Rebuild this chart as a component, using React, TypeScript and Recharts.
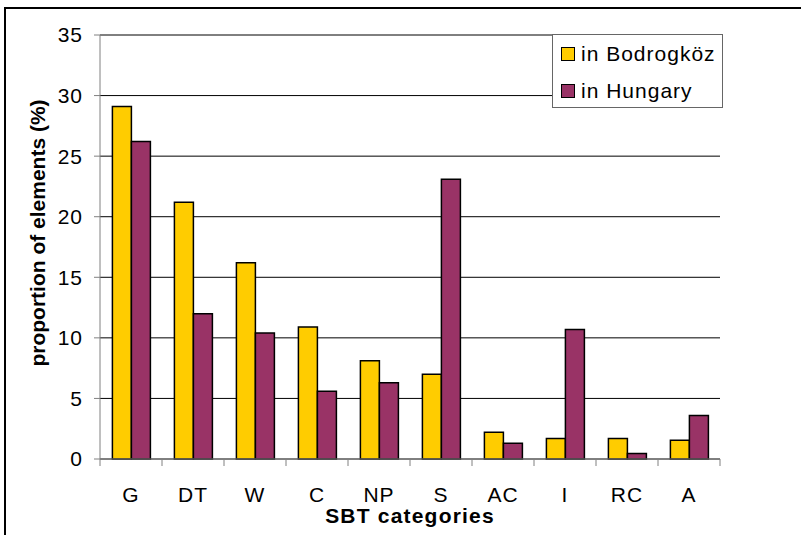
import { BarChart, Bar, XAxis, YAxis, CartesianGrid } from "recharts";

// SBT categories and the share of elements in each (%)
const categories = ["G", "DT", "W", "C", "NP", "S", "AC", "I", "RC", "A"];
const bodrogkoz = [29.1, 21.2, 16.2, 10.9, 8.1, 7.0, 2.2, 1.7, 1.7, 1.55];
const hungary = [26.2, 12.0, 10.4, 5.6, 6.3, 23.1, 1.3, 10.7, 0.45, 3.6];
const yTicks = [0, 5, 10, 15, 20, 25, 30, 35];
const series = [
  { key: "bodrogkoz", name: "in Bodrogköz", color: "#FFCC00" },
  { key: "hungary", name: "in Hungary", color: "#993366" },
];

const data = categories.map((c, i) => ({
  cat: c,
  bodrogkoz: bodrogkoz[i],
  hungary: hungary[i],
}));

const FONT = "'Liberation Sans', Arial, sans-serif";
const BAND = 62; // width of one category band (620px / 10)
const AXIS_Y = 459;

const CatTick = (props: any) => {
  const { x, payload, index } = props;
  const last = index === categories.length - 1;
  return (
    <g>
      <line x1={x - BAND / 2} x2={x - BAND / 2} y1={AXIS_Y} y2={AXIS_Y + 7} stroke="#808080" />
      {last && <line x1={x + BAND / 2} x2={x + BAND / 2} y1={AXIS_Y} y2={AXIS_Y + 7} stroke="#808080" />}
      <text x={x} y={AXIS_Y + 28} dy="0.71em" textAnchor="middle" fontSize={21} letterSpacing={1} fontFamily={FONT} fill="#000">
        {payload.value}
      </text>
    </g>
  );
};

export default function App() {
  return (
    <div style={{ position: "absolute", left: 0, top: 0, width: 801, height: 535, overflow: "hidden", background: "#fff" }}>
      <div style={{ position: "absolute", left: 4, top: 7, width: 900, height: 700, border: "2px solid #000" }} />
      <div style={{ position: "absolute", left: 0, top: 0 }}>
        <BarChart
          width={801}
          height={535}
          data={data}
          margin={{ top: 35, right: 81, left: 0, bottom: 0 }}
          barGap={0}
          barCategoryGap="20%"
        >
          <CartesianGrid vertical={false} stroke="#000" />
          <XAxis
            dataKey="cat"
            height={76}
            axisLine={{ stroke: "#808080" }}
            tickLine={false}
            tick={<CatTick />}
            interval={0}
            label={{
              content: (p: any) => (
                <text
                  x={p.viewBox.x + p.viewBox.width / 2}
                  y={p.viewBox.y + 64}
                  textAnchor="middle"
                  fontSize={21}
                  fontWeight="bold"
                  letterSpacing={1.2}
                  fontFamily={FONT}
                  fill="#000"
                >
                  SBT categories
                </text>
              ),
            }}
          />
          <YAxis
            width={100}
            domain={[0, 35]}
            ticks={yTicks}
            interval={0}
            axisLine={{ stroke: "#808080" }}
            tickLine={{ stroke: "#808080" }}
            tickSize={6}
            tickMargin={11}
            tick={{ fontSize: 21, fontFamily: FONT, fill: "#000", letterSpacing: 1 }}
            label={{
              content: (p: any) => {
                const cx = 37;
                const cy = p.viewBox.y + p.viewBox.height / 2 - 14;
                return (
                  <text
                    x={cx}
                    y={cy}
                    transform={`rotate(-90 ${cx} ${cy})`}
                    textAnchor="middle"
                    dominantBaseline="central"
                    fontSize={21}
                    fontWeight="bold"
                    fontFamily={FONT}
                    fill="#000"
                  >
                    proportion of elements (%)
                  </text>
                );
              },
            }}
          />
          {series.map((s) => (
            <Bar
              key={s.key}
              dataKey={s.key}
              name={s.name}
              fill={s.color}
              stroke="#000"
              strokeWidth={1.5}
              isAnimationActive={false}
            />
          ))}
        </BarChart>
      </div>
      {/* legend box, top right of the plot */}
      <div
        style={{
          position: "absolute",
          left: 552,
          top: 34,
          width: 169,
          height: 72,
          background: "#fff",
          border: "1px solid #666",
          fontFamily: FONT,
          fontSize: 21,
          letterSpacing: 1,
        }}
      >
        {series.map((s) => (
          <div key={s.key} style={{ display: "flex", alignItems: "center", height: 37, paddingLeft: 8 }}>
            <span style={{ width: 12, height: 12, background: s.color, border: "1.5px solid #000", marginRight: 6 }} />
            <span>{s.name}</span>
          </div>
        ))}
      </div>
    </div>
  );
}
